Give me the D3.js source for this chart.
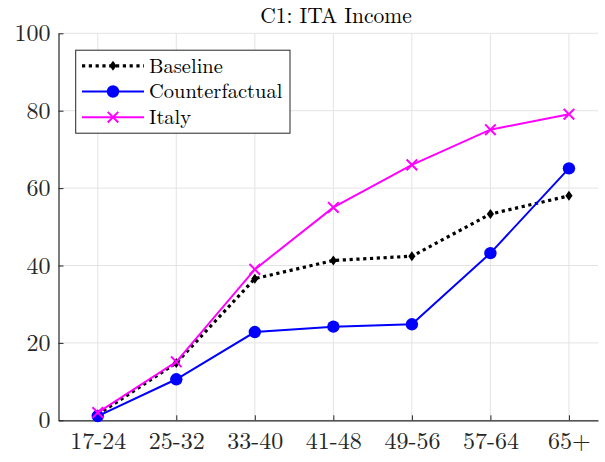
<!DOCTYPE html>
<html>
<head>
<meta charset="utf-8">
<script src="https://cdn.jsdelivr.net/npm/d3@7"></script>
<style>
  html, body { margin: 0; padding: 0; background: #fff; }
  svg { display: block; }
</style>
</head>
<body>
<svg id="chart" width="605" height="462"></svg>
<script>
// ---- data ----
const categories = ["17-24", "25-32", "33-40", "41-48", "49-56", "57-64", "65+"];
const baseline = [1.5, 14.8, 36.6, 41.3, 42.4, 53.3, 58.0];
const counterfactual = [1.1, 10.6, 22.8, 24.2, 24.8, 43.2, 65.1];
const italy = [2.0, 15.1, 39.0, 55.0, 66.0, 75.1, 79.1];
const yTicks = [0, 20, 40, 60, 80, 100];
const title = "C1: ITA Income";
const seriesNames = ["Baseline", "Counterfactual", "Italy"];

const FONT = "'Latin Modern Roman', 'CMU Serif', 'Liberation Serif', serif";

// ---- layout ----
const svg = d3.select("#chart");
const L = 58.5, R = 598, T = 33.3, B = 420.3;

const x = d3.scaleLinear().domain([-0.5, 6.37]).range([L, R]);
const y = d3.scaleLinear().domain([0, 100]).range([B, T]);

// grid
const grid = svg.append("g");
grid.selectAll("line.gx").data(categories).enter().append("line")
  .attr("x1", (d, i) => x(i)).attr("x2", (d, i) => x(i))
  .attr("y1", T).attr("y2", B)
  .attr("stroke", "#e3e3e3").attr("stroke-width", 1);
grid.selectAll("line.gy").data(yTicks).enter().append("line")
  .attr("x1", L).attr("x2", R)
  .attr("y1", d => y(d)).attr("y2", d => y(d))
  .attr("stroke", "#e3e3e3").attr("stroke-width", 1);

// axes
const yAxis = d3.axisLeft(y).tickValues(yTicks).tickSizeInner(-5).tickSizeOuter(0).tickPadding(8);
const gy = svg.append("g").attr("transform", `translate(${L},0)`).call(yAxis);
gy.select(".domain").attr("stroke", "#262626").attr("stroke-width", 1.2);
gy.selectAll(".tick line").attr("stroke", "#262626");
gy.selectAll(".tick text").style("font-family", FONT).style("font-size", "24px")
  .style("fill", "#262626").attr("dy", "0.32em");

const xAxis = d3.axisBottom(x).tickValues(d3.range(categories.length))
  .tickFormat(i => categories[i]).tickSizeInner(-5).tickSizeOuter(0).tickPadding(12);
const gx = svg.append("g").attr("transform", `translate(0,${B})`).call(xAxis);
gx.select(".domain").attr("stroke", "#262626").attr("stroke-width", 1.2);
gx.selectAll(".tick line").attr("stroke", "#262626");
gx.selectAll(".tick text").style("font-family", FONT).style("font-size", "24px")
  .style("fill", "#262626").attr("dy", "0.71em");

// title
svg.append("text").attr("x", 336).attr("y", 22.5)
  .attr("text-anchor", "middle")
  .style("font-family", FONT).style("font-size", "21.5px").style("fill", "#000")
  .text(title);

// lines
const line = d3.line().x((d, i) => x(i)).y(d => y(d));

const diamond = (g, cx, cy) => g.append("path")
  .attr("d", `M${cx},${cy - 5}L${cx + 3.6},${cy}L${cx},${cy + 5}L${cx - 3.6},${cy}Z`)
  .attr("fill", "#000");
const circle = (g, cx, cy) => g.append("circle").attr("cx", cx).attr("cy", cy).attr("r", 6.2).attr("fill", "#0000ff");
const cross = (g, cx, cy) => g.append("path")
  .attr("d", `M${cx - 5.3},${cy - 5.3}L${cx + 5.3},${cy + 5.3}M${cx - 5.3},${cy + 5.3}L${cx + 5.3},${cy - 5.3}`)
  .attr("stroke", "#ff00ff").attr("stroke-width", 2).attr("fill", "none");

const series = [
  { name: seriesNames[0], values: baseline, color: "#000", width: 3.2, dash: "3.2,3.6", marker: diamond },
  { name: seriesNames[1], values: counterfactual, color: "#0000ff", width: 2, dash: null, marker: circle },
  { name: seriesNames[2], values: italy, color: "#ff00ff", width: 2, dash: null, marker: cross }
];

const plot = svg.append("g");
series.forEach(s => {
  const g = plot.append("g");
  g.append("path").datum(s.values).attr("d", line)
    .attr("fill", "none").attr("stroke", s.color).attr("stroke-width", s.width)
    .attr("stroke-dasharray", s.dash);
  s.values.forEach((v, i) => s.marker(g, x(i), y(v)));
});

// legend
const lg = svg.append("g");
lg.append("rect").attr("x", 75.7).attr("y", 50.2).attr("width", 214.3).attr("height", 83)
  .attr("fill", "#fff").attr("stroke", "#262626").attr("stroke-width", 1);
const rows = [65.8, 91.5, 117.2];
series.forEach((s, k) => {
  const yy = rows[k];
  lg.append("line").attr("x1", 82).attr("x2", 144).attr("y1", yy).attr("y2", yy)
    .attr("stroke", s.color).attr("stroke-width", s.width).attr("stroke-dasharray", s.dash);
  s.marker(lg, 113, yy);
  lg.append("text").attr("x", 149).attr("y", yy).attr("dy", "0.33em")
    .style("font-family", FONT).style("font-size", "20.5px").style("fill", "#000")
    .text(s.name);
});
</script>
</body>
</html>
